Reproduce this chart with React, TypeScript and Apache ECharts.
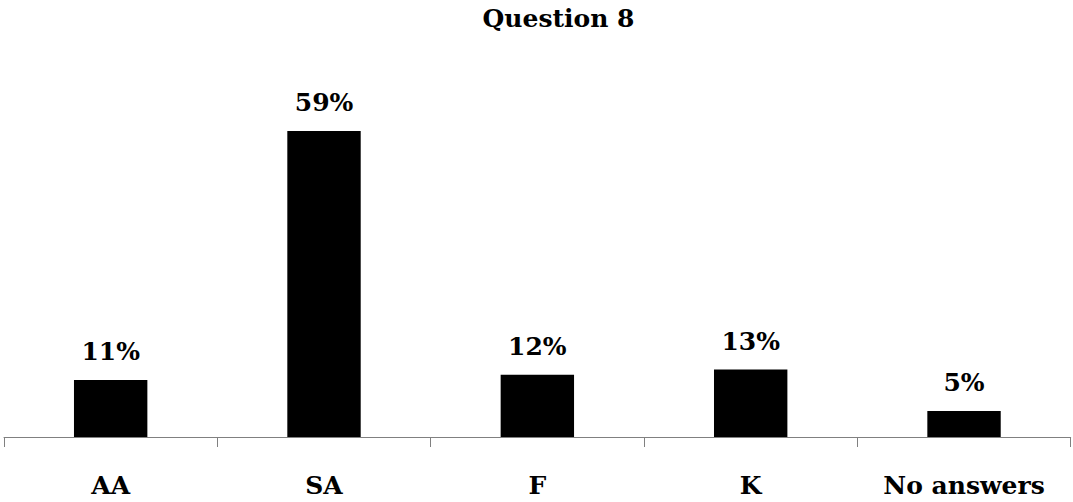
import React, { useEffect, useRef } from "react";
import * as echarts from "echarts";

const categories = ["AA", "SA", "F", "K", "No answers"];
const shares = [11, 59, 12, 13, 5];
const chartTitle = "Question 8";

const FONT = "DejaVu Serif";
const SIZE = 25;

export default function App() {
  const ref = useRef<HTMLDivElement>(null);

  useEffect(() => {
    if (!ref.current) return;
    const chart = echarts.init(ref.current, undefined, { renderer: "svg" });
    chart.setOption({
      animation: false,
      backgroundColor: "#ffffff",
      textStyle: { fontFamily: FONT },
      graphic: [
        {
          type: "text",
          x: 558.5,
          y: 18,
          style: {
            text: chartTitle,
            fontFamily: FONT,
            fontWeight: "bold",
            fontSize: SIZE,
            fill: "#000000",
            textAlign: "center",
            textVerticalAlign: "middle",
          },
        },
      ],
      grid: { left: 4, right: 2.3, top: 74, bottom: 65, containLabel: false },
      xAxis: {
        type: "category",
        data: categories,
        boundaryGap: true,
        axisLine: { show: true, lineStyle: { color: "#808080", width: 1 } },
        axisTick: {
          show: true,
          alignWithLabel: false,
          length: 10,
          lineStyle: { color: "#808080", width: 1 },
        },
        axisLabel: {
          margin: 36,
          fontFamily: FONT,
          fontWeight: "bold",
          fontSize: SIZE,
          color: "#000000",
          interval: 0,
        },
      },
      yAxis: {
        type: "value",
        min: 0,
        max: 70,
        show: false,
        splitLine: { show: false },
      },
      series: [
        {
          type: "bar",
          data: shares,
          barWidth: "34.4%",
          itemStyle: { color: "#000000" },
          label: {
            show: true,
            position: "top",
            distance: 16,
            formatter: "{c}%",
            fontFamily: FONT,
            fontWeight: "bold",
            fontSize: SIZE,
            color: "#000000",
          },
        },
      ],
    });
    return () => chart.dispose();
  }, []);

  return (
    <div
      ref={ref}
      style={{ position: "fixed", left: 0, top: 0, width: 1073, height: 502 }}
    />
  );
}
